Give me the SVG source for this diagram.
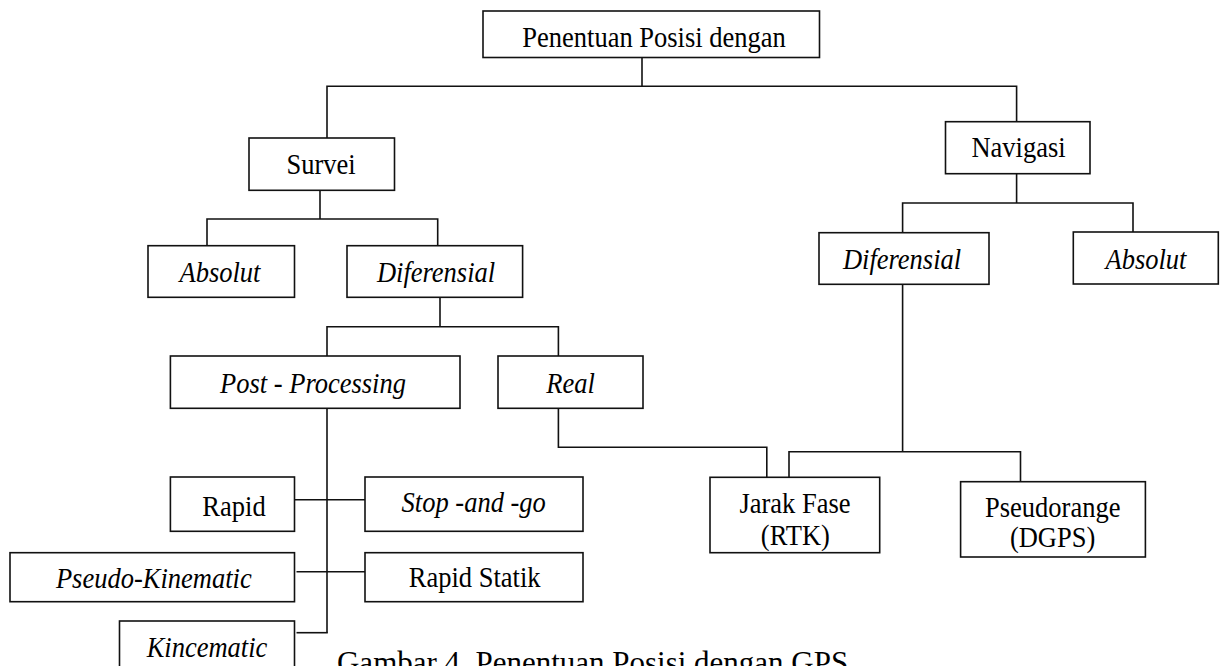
<svg xmlns="http://www.w3.org/2000/svg" width="1220" height="666" viewBox="0 0 1220 666">
<style>
.box{fill:#fff;stroke:#111;stroke-width:1.6}
.lbl{font-family:"Liberation Serif","Times New Roman",serif;font-size:26.5px;fill:#000;text-anchor:middle}
.it{font-style:italic}
.con line,.con polyline{fill:none;stroke:#111;stroke-width:1.6}
.cap{font-family:"Liberation Serif","Times New Roman",serif;font-size:31px;fill:#000}
</style>
<rect width="1220" height="666" fill="#fff"/>
<g class="con">
<line x1="642" y1="57.5" x2="642" y2="86.3"/>
<polyline points="327,138 327,86.3 1016.6,86.3 1016.6,121.7"/>
<line x1="320" y1="190.3" x2="320" y2="219"/>
<polyline points="207,248 207,219 437.7,219 437.7,248"/>
<line x1="1016.6" y1="173.7" x2="1016.6" y2="203"/>
<polyline points="902.6,232.7 902.6,203 1133,203 1133,232"/>
<line x1="440" y1="297.3" x2="440" y2="326.7"/>
<polyline points="327,356 327,326.7 558.4,326.7 558.4,356"/>
<line x1="327" y1="405" x2="327" y2="632.7"/>
<line x1="294.5" y1="499.7" x2="365" y2="499.7"/>
<line x1="296.5" y1="571.7" x2="365" y2="571.7"/>
<line x1="296.5" y1="632.7" x2="327.8" y2="632.7"/>
<polyline points="558.4,405 558.4,447.3 766.8,447.3 766.8,478"/>
<line x1="902.6" y1="282" x2="902.6" y2="451.7"/>
<polyline points="789,481.7 789,451.7 1020.5,451.7 1020.5,481.7"/>
</g>
<g id="n-root"><rect class="box" x="483" y="11" width="336.5" height="46.5"/><text class="lbl" transform="translate(654 47) scale(1 1.08)">Penentuan Posisi dengan</text></g>
<g id="n-survei"><rect class="box" x="249" y="138" width="145.5" height="52.3"/><text class="lbl" transform="translate(321 174) scale(1 1.08)">Survei</text></g>
<g id="n-navigasi"><rect class="box" x="945.5" y="121.7" width="144.5" height="52"/><text class="lbl" transform="translate(1018.5 157) scale(1 1.08)">Navigasi</text></g>
<g id="n-absolut-l"><rect class="box" x="148" y="245.7" width="146.5" height="51.6"/><text class="lbl it" transform="translate(220 282) scale(1 1.08)">Absolut</text></g>
<g id="n-diferensial-l"><rect class="box" x="347" y="245.7" width="175.6" height="51.6"/><text class="lbl it" transform="translate(436 282) scale(1 1.08)">Diferensial</text></g>
<g id="n-diferensial-r"><rect class="box" x="819" y="232.7" width="170" height="51.6"/><text class="lbl it" transform="translate(902 268.5) scale(1 1.08)">Diferensial</text></g>
<g id="n-absolut-r"><rect class="box" x="1073.3" y="232" width="145" height="52"/><text class="lbl it" transform="translate(1146 268.5) scale(1 1.08)">Absolut</text></g>
<g id="n-post"><rect class="box" x="170.4" y="356" width="289.6" height="52.3"/><text class="lbl it" transform="translate(313 392.7) scale(1 1.08)">Post - Processing</text></g>
<g id="n-real"><rect class="box" x="498" y="356" width="145" height="52.3"/><text class="lbl it" transform="translate(570.6 392.7) scale(1 1.08)">Real</text></g>
<g id="n-rapid"><rect class="box" x="170.4" y="477" width="124.1" height="54.3"/><text class="lbl" transform="translate(234 516) scale(1 1.08)">Rapid</text></g>
<g id="n-stopgo"><rect class="box" x="365" y="477" width="218" height="54.3"/><text class="lbl it" transform="translate(473.7 511.7) scale(1 1.08)">Stop -and -go</text></g>
<g id="n-pseudokin"><rect class="box" x="10" y="552.7" width="284.5" height="49"/><text class="lbl it" transform="translate(153.8 588.3) scale(1 1.08)">Pseudo-Kinematic</text></g>
<g id="n-rapidstatik"><rect class="box" x="365" y="552.7" width="218" height="49"/><text class="lbl" transform="translate(474.7 586.7) scale(1 1.08)">Rapid Statik</text></g>
<g id="n-kincematic"><rect class="box" x="119.5" y="621" width="175" height="60"/><text class="lbl it" transform="translate(207 657.3) scale(1 1.08)">Kincematic</text></g>
<g id="n-jarak"><rect class="box" x="710" y="477.3" width="169.7" height="75.4"/><text class="lbl" transform="translate(795 513.3) scale(1 1.08)">Jarak Fase</text><text class="lbl" transform="translate(795.4 545) scale(1 1.08)">(RTK)</text></g>
<g id="n-pseudorange"><rect class="box" x="960.6" y="481.7" width="184.8" height="75.3"/><text class="lbl" transform="translate(1052.7 517.3) scale(1 1.08)">Pseudorange</text><text class="lbl" transform="translate(1052.6 546.7) scale(1 1.08)">(DGPS)</text></g>
<text class="cap" transform="translate(337 673) scale(1 1.05)">Gambar 4. Penentuan Posisi dengan GPS</text>
</svg>
